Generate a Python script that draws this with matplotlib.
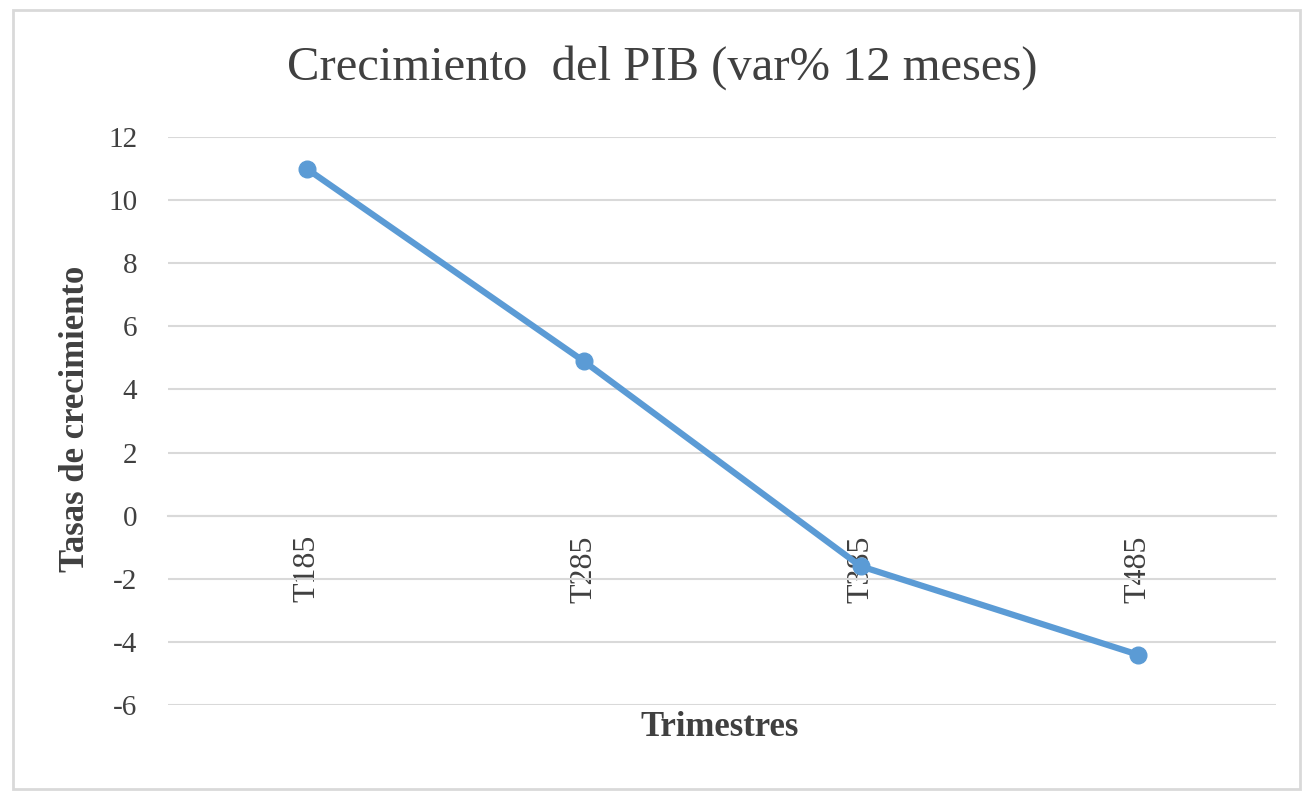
import matplotlib
matplotlib.use('Agg')
import matplotlib.pyplot as plt
from matplotlib.patches import Rectangle

# data
trimestres = ['T185', 'T285', 'T385', 'T485']
crecimiento = [11.0, 4.9, -1.6, -4.4]
y_ticks = [-6, -4, -2, 0, 2, 4, 6, 8, 10, 12]

BLUE = '#5b9bd5'
GRID = '#d9d9d9'
TEXT = '#404040'

plt.rcParams['font.family'] = ['Liberation Serif', 'DejaVu Serif']

W, H = 1304, 791
fig = plt.figure(figsize=(W / 100, H / 100), dpi=100)
ax = fig.add_axes([168 / W, 1 - 705 / H, (1276 - 168) / W, (705 - 137) / H])

x = range(len(trimestres))
ax.plot(x, crecimiento, color=BLUE, lw=4.5, marker='o', ms=12,
        solid_capstyle='round', zorder=3)

ax.set_xlim(-0.5, len(trimestres) - 0.5)
ax.set_ylim(-6, 12)
ax.set_yticks(y_ticks)
ax.set_yticklabels([str(t) for t in y_ticks])
ax.yaxis.grid(True, color=GRID, lw=1.5)
ax.set_axisbelow(True)

# category axis crosses at zero, like the Excel original
for s in ['top', 'right', 'left']:
    ax.spines[s].set_visible(False)
ax.spines['bottom'].set_position(('data', 0))
ax.spines['bottom'].set_color(GRID)
ax.spines['bottom'].set_linewidth(1.5)
ax.set_xticks(list(x))
ax.set_xticklabels(trimestres, rotation=90, va='top')
ax.tick_params(axis='x', length=0, pad=14, labelsize=23, labelcolor=TEXT)
ax.tick_params(axis='y', length=0, pad=22, labelsize=21, labelcolor=TEXT)

fig.text(662 / W, 1 - 68 / H, 'Crecimiento  del PIB (var% 12 meses)',
         ha='center', va='center', fontsize=35, color=TEXT)
fig.text(76 / W, 1 - 419 / H, 'Tasas de crecimiento', rotation=90,
         ha='center', va='center', fontsize=25, fontweight='bold', color=TEXT)
fig.text(720 / W, 1 - 728 / H, 'Trimestres', ha='center', va='center',
         fontsize=25, fontweight='bold', color=TEXT)

fig.patches.append(Rectangle((13 / W, 1 - 789 / H), (1300 - 13) / W,
                             (789 - 10) / H, transform=fig.transFigure,
                             fill=False, edgecolor=GRID, lw=2))

fig.savefig('out.png', dpi=100)
